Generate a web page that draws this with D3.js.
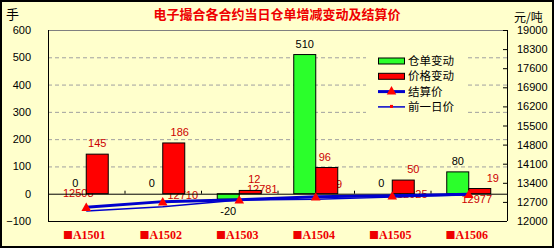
<!DOCTYPE html>
<html>
<head>
<meta charset="utf-8">
<script src="https://cdn.jsdelivr.net/npm/d3@7"></script>
<style>
  body { margin: 0; background: #fff; }
  svg text { font-family: "Liberation Sans", Arial, sans-serif; }
</style>
</head>
<body>
<div id="chart"></div>
<script>
const categories = ["A1501", "A1502", "A1503", "A1504", "A1505", "A1506"];
const warrantChange = [0, 0, -20, 510, 0, 80];
const priceChange = [145, 186, 12, 96, 50, 19];
const settlePrice = [12508, 12710, 12781, 12889, 12925, 12977];
const prevPrice = [12363, 12524, 12769, 12793, 12875, 12958];
const leftTicks = [-100, 0, 100, 200, 300, 400, 500, 600];
const rightTicks = [12000, 12700, 13400, 14100, 14800, 15500, 16200, 16900, 17600, 18300, 19000];

// label nudges (Excel placed these by hand-ish)
const settleLabelDx = [-8, 20, 23, 11, 20, 8];
const settleLabelDy = [-10, -3, -7, -9, 2, 9];
const priceLabelDx = [0, 6, 4, -2, 10, 13];

const w = 556, h = 251;
const margin = { top: 30, right: 49, bottom: 30, left: 48 };

const svg = d3.select("#chart").append("svg").attr("width", w).attr("height", h);

svg.append("rect")
  .attr("x", 1).attr("y", 1).attr("width", 552).attr("height", 246)
  .attr("fill", "#ffffcc").attr("stroke", "#000").attr("stroke-width", 2);

const x = d3.scaleBand().domain(categories).range([margin.left, w - margin.right]);
const bw = x.bandwidth();
const xSub = d3.scaleBand().domain(["w", "p"]).range([(bw - 44) / 2, (bw + 44) / 2]);

const yL = d3.scaleLinear().domain([-100, 600]).range([h - margin.bottom, margin.top]);
const yR = d3.scaleLinear().domain([12000, 19000]).range([h - margin.bottom, margin.top]);

// grid
svg.append("g")
  .selectAll("line")
  .data([100, 200, 300, 400, 500])
  .join("line")
  .attr("x1", margin.left).attr("x2", w - margin.right)
  .attr("y1", d => yL(d) + 0.5).attr("y2", d => yL(d) + 0.5)
  .attr("stroke", "#a0a0a0").attr("stroke-dasharray", "4,3");

svg.append("line")
  .attr("x1", margin.left).attr("x2", w - margin.right)
  .attr("y1", yL(600) + 0.5).attr("y2", yL(600) + 0.5)
  .attr("stroke", "#808080");

// legend backdrop hides grid
svg.append("rect")
  .attr("x", 366).attr("y", 52).attr("width", 100).attr("height", 62)
  .attr("fill", "#ffffcc");

// settlement labels sit behind the bars
svg.append("g")
  .selectAll("text")
  .data(settlePrice)
  .join("text")
  .attr("x", (d, i) => x(categories[i]) + bw / 2 + settleLabelDx[i])
  .attr("y", (d, i) => yR(d) + settleLabelDy[i])
  .attr("text-anchor", "middle")
  .attr("font-size", 11)
  .attr("fill", "#cc0000")
  .text(d => d);

// bars
const bars = svg.append("g");
bars.selectAll(".wbar")
  .data(warrantChange)
  .join("rect")
  .attr("class", "wbar")
  .attr("x", (d, i) => x(categories[i]) + xSub("w"))
  .attr("y", d => yL(Math.max(d, 0)))
  .attr("width", xSub.bandwidth())
  .attr("height", d => Math.abs(yL(d) - yL(0)))
  .attr("fill", "#2bff2b").attr("stroke", "#000").attr("stroke-width", 1);

bars.selectAll(".pbar")
  .data(priceChange)
  .join("rect")
  .attr("class", "pbar")
  .attr("x", (d, i) => x(categories[i]) + xSub("p"))
  .attr("y", d => yL(Math.max(d, 0)))
  .attr("width", xSub.bandwidth())
  .attr("height", d => Math.abs(yL(d) - yL(0)))
  .attr("fill", "#ff0000").attr("stroke", "#000").attr("stroke-width", 1);

// zero line + category ticks
svg.append("line")
  .attr("x1", margin.left).attr("x2", w - margin.right)
  .attr("y1", yL(0) + 0.5).attr("y2", yL(0) + 0.5)
  .attr("stroke", "#000");
svg.append("g")
  .selectAll("line")
  .data(categories.slice(1))
  .join("line")
  .attr("x1", d => x(d) + 0.5).attr("x2", d => x(d) + 0.5)
  .attr("y1", yL(0) - 3).attr("y2", yL(0))
  .attr("stroke", "#000");

// bottom border of plot
svg.append("line")
  .attr("x1", margin.left).attr("x2", w - margin.right)
  .attr("y1", yL(-100) + 0.5).attr("y2", yL(-100) + 0.5)
  .attr("stroke", "#000");

// lines
const lineP = d3.line()
  .x((d, i) => x(categories[i]) + bw / 2)
  .y(d => yR(d));

svg.append("path").datum(prevPrice)
  .attr("d", lineP).attr("fill", "none")
  .attr("stroke", "#0000cc").attr("stroke-width", 1.5);

svg.append("path").datum(settlePrice)
  .attr("d", lineP).attr("fill", "none")
  .attr("stroke", "#0000cc").attr("stroke-width", 3);

const tri = d3.symbol().type(d3.symbolTriangle).size(40);
svg.append("g")
  .selectAll("path")
  .data(settlePrice)
  .join("path")
  .attr("d", tri)
  .attr("transform", (d, i) => `translate(${x(categories[i]) + bw / 2},${yR(d) + 1})`)
  .attr("fill", "#ff0000");

// value labels
svg.append("g")
  .selectAll("text")
  .data(warrantChange)
  .join("text")
  .attr("x", (d, i) => x(categories[i]) + xSub("w") + xSub.bandwidth() / 2)
  .attr("y", d => d < 0 ? yL(d) + 16 : yL(d) - 7)
  .attr("text-anchor", "middle")
  .attr("font-size", 11)
  .attr("fill", "#000")
  .text(d => d);

svg.append("g")
  .selectAll("text")
  .data(priceChange)
  .join("text")
  .attr("x", (d, i) => x(categories[i]) + xSub("p") + xSub.bandwidth() / 2 + priceLabelDx[i])
  .attr("y", d => yL(d) - 7)
  .attr("text-anchor", "middle")
  .attr("font-size", 11)
  .attr("fill", "#cc0000")
  .text(d => d);

// axes
const axL = svg.append("g")
  .attr("transform", `translate(${margin.left},0)`)
  .call(d3.axisLeft(yL).tickValues(leftTicks).tickSize(0).tickPadding(17));
axL.select(".domain").attr("stroke", "#000").attr("d", `M0.5,${yL(600)}V${yL(-100)}`);
axL.selectAll("text").attr("font-size", 11).attr("fill", "#000");

const axR = svg.append("g")
  .attr("transform", `translate(${w - margin.right},0)`)
  .call(d3.axisRight(yR).tickValues(rightTicks).tickFormat(d3.format("d")).tickSize(-4).tickPadding(10));
axR.select(".domain").attr("stroke", "#000").attr("d", `M0.5,${yR(12000)}V${yR(19000)}`);
axR.selectAll("line").attr("stroke", "#000");
axR.selectAll("text").attr("font-size", 11).attr("fill", "#000");

// category labels
const catText = svg.append("g")
  .selectAll("text")
  .data(categories)
  .join("text")
  .attr("x", d => x(d) + bw / 2 - 2)
  .attr("y", 239)
  .attr("text-anchor", "middle")
  .attr("font-size", 12)
  .attr("font-weight", "bold")
  .attr("fill", "#ee0000");
catText.append("tspan")
  .style("font-family", "'Noto Sans CJK SC', sans-serif")
  .attr("font-size", 10)
  .text("■");
catText.append("tspan")
  .style("font-family", "'Liberation Serif', serif")
  .text(d => d);

// titles
svg.append("text")
  .attr("x", 277).attr("y", 19)
  .attr("text-anchor", "middle")
  .attr("font-size", 13).attr("font-weight", "bold")
  .attr("fill", "#ee0000")
  .style("font-family", "'Noto Sans CJK SC', sans-serif")
  .text("电子撮合各合约当日仓单增减变动及结算价");

svg.append("text")
  .attr("x", 6).attr("y", 19)
  .attr("font-size", 13)
  .style("font-family", "'Noto Sans CJK SC', sans-serif")
  .text("手");

svg.append("text")
  .attr("x", 514).attr("y", 22)
  .attr("font-size", 12)
  .style("font-family", "'Noto Sans CJK SC', sans-serif")
  .text("元/吨");

// legend
const legendItems = ["仓单变动", "价格变动", "结算价", "前一日价"];
const lg = svg.append("g").attr("transform", "translate(378,61)");
const rowH = 15.3;
lg.selectAll("text")
  .data(legendItems)
  .join("text")
  .attr("x", 30)
  .attr("y", (d, i) => i * rowH + 4)
  .attr("font-size", 11.5)
  .style("font-family", "'Noto Sans CJK SC', sans-serif")
  .text(d => d);

lg.append("rect").attr("x", 0.5).attr("y", -3).attr("width", 26).attr("height", 6)
  .attr("fill", "#2bff2b").attr("stroke", "#000");
lg.append("rect").attr("x", 0.5).attr("y", rowH - 3).attr("width", 26).attr("height", 6)
  .attr("fill", "#ff0000").attr("stroke", "#000");
lg.append("line").attr("x1", 0).attr("x2", 27).attr("y1", rowH * 2).attr("y2", rowH * 2)
  .attr("stroke", "#0000cc").attr("stroke-width", 3);
lg.append("path").attr("d", tri)
  .attr("transform", `translate(13.5,${rowH * 2})`).attr("fill", "#ff0000");
lg.append("line").attr("x1", 0).attr("x2", 27).attr("y1", rowH * 3).attr("y2", rowH * 3)
  .attr("stroke", "#0000cc").attr("stroke-width", 1.5);
lg.append("rect").attr("x", 12).attr("y", rowH * 3 - 2).attr("width", 3).attr("height", 3)
  .attr("fill", "#ff0000");
</script>
</body>
</html>
